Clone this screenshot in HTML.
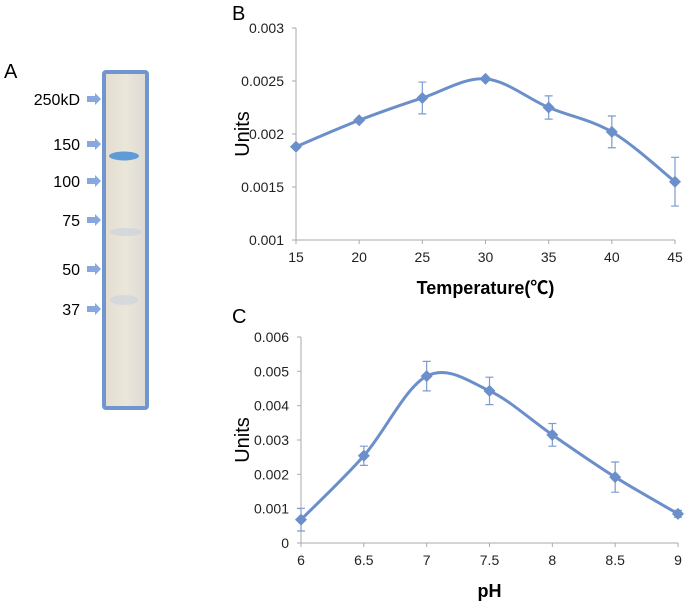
<!DOCTYPE html>
<html><head><meta charset="utf-8"><style>
body{margin:0;background:#fff;}
svg text{font-family:"Liberation Sans","Noto Sans CJK JP",sans-serif;}
</style></head><body>
<svg width="685" height="606" viewBox="0 0 685 606">
<defs><linearGradient id="gel" x1="0" x2="1"><stop offset="0" stop-color="#e2ddd0"/><stop offset="0.5" stop-color="#ebe6da"/><stop offset="1" stop-color="#dcdad4"/></linearGradient></defs>
<g>
<text x="4" y="78" font-size="20">A</text>
<rect x="104" y="72" width="43" height="336" fill="url(#gel)" stroke="#7195cd" stroke-width="4" rx="2"/>
<ellipse cx="124" cy="156" rx="15" ry="4.5" fill="#5f9bd6"/>
<ellipse cx="126" cy="232" rx="16" ry="4" fill="#c4d0dc" opacity="0.6"/>
<ellipse cx="124" cy="300" rx="14" ry="5" fill="#c8d2dc" opacity="0.6"/>
<g id="markers"></g>
</g>
<g id="chartB"></g>
<g id="chartC"></g>
</svg>
<script>
const markerLabels=["250kD","150","100","75","50","37"];
const markerY=[99,144,181,220,269,309];
const tempCats=[15,20,25,30,35,40,45];
const tempVals=[0.00188,0.00213,0.00234,0.00252,0.00225,0.00202,0.00155];
const tempErr=[0,0,0.00015,0,0.00011,0.00015,0.00023];
const tempYTicks=[0.001,0.0015,0.002,0.0025,0.003];
const phCats=[6,6.5,7,7.5,8,8.5,9];
const phVals=[0.00068,0.00254,0.00486,0.00443,0.00315,0.00192,0.00085];
const phErr=[0.00033,0.00028,0.00043,0.0004,0.00033,0.00044,0.0001];
const phYTicks=[0,0.001,0.002,0.003,0.004,0.005,0.006];
const NS="http://www.w3.org/2000/svg";
function mk(p,t,a){const e=document.createElementNS(NS,t);for(const k in a)e.setAttribute(k,a[k]);p.appendChild(e);return e;}
const mg=document.getElementById('markers');
markerLabels.forEach((l,i)=>{
 const t=mk(mg,'text',{x:80,y:markerY[i]+6,'font-size':16,'text-anchor':'end'});t.textContent=l;
 
 
 const y=markerY[i];
 const a=mk(mg,'path',{d:`M87 ${y-3}H95V${y-6}L101 ${y}L95 ${y+6}V${y+3}H87Z`,fill:'#86a8de'});
 
 
});
function chart(g,o){
 const sx=v=>o.x0+(v-o.cats[0])/(o.cats[o.cats.length-1]-o.cats[0])*(o.x1-o.x0);
 const yt=o.yt,sy=v=>o.y1-(v-yt[0])/(yt[yt.length-1]-yt[0])*(o.y1-o.y0);
 const lab=mk(g,'text',{x:o.lx,y:o.ly,'font-size':20});lab.textContent=o.letter;
 
 
 const ax=mk(g,'path',{d:`M${o.x0} ${o.y0}V${o.y1}H${o.x1}`,stroke:'#aaa',fill:'none','stroke-width':1});
 
 
 yt.forEach(v=>{mk(g,'line',{x1:o.x0-4,x2:o.x0,y1:sy(v),y2:sy(v),stroke:'#aaa'});
  const t=mk(g,'text',{x:o.x0-12,y:sy(v)+5,'font-size':14,'text-anchor':'end',fill:'#222'});t.textContent=String(v);
  
  });
 o.cats.forEach(v=>{mk(g,'line',{x1:sx(v),x2:sx(v),y1:o.y1,y2:o.y1+4,stroke:'#aaa'});
  const t=mk(g,'text',{x:sx(v),y:o.y1+22,'font-size':14,'text-anchor':'middle',fill:'#222'});t.textContent=String(v);
  
  });
 const yl=mk(g,'text',{transform:`translate(${o.yx},${(o.y0+o.y1)/2}) rotate(-90)`,'font-size':20,'text-anchor':'middle'});yl.textContent='Units';
 
 
 const xl=mk(g,'text',{x:(o.x0+o.x1)/2,y:o.xty,'font-size':18,'font-weight':'bold','text-anchor':'middle'});xl.textContent=o.xt;
 
 
 const P=o.cats.map((c,i)=>[sx(c),sy(o.vals[i])]);
 let d=`M${P[0][0]} ${P[0][1]}`;
 for(let i=0;i<P.length-1;i++){const p0=P[Math.max(0,i-1)],p1=P[i],p2=P[i+1],p3=P[Math.min(P.length-1,i+2)];
  d+=`C${p1[0]+(p2[0]-p0[0])/6} ${p1[1]+(p2[1]-p0[1])/6} ${p2[0]-(p3[0]-p1[0])/6} ${p2[1]-(p3[1]-p1[1])/6} ${p2[0]} ${p2[1]}`;}
 const ln=mk(g,'path',{d,stroke:'#6b8fca',fill:'none','stroke-width':3});
 
 
 o.cats.forEach((c,i)=>{const x=sx(c),y=sy(o.vals[i]),e=o.err[i];
  if(e>0){const a=sy(o.vals[i]+e),b=sy(o.vals[i]-e);
   const eb=mk(g,'path',{d:`M${x} ${a}V${b}M${x-4} ${a}H${x+4}M${x-4} ${b}H${x+4}`,stroke:'#7c9bd0',fill:'none','stroke-width':1.2});
   
   }
  const m=mk(g,'path',{d:`M${x} ${y-6}L${x+6} ${y}L${x} ${y+6}L${x-6} ${y}Z`,fill:'#6b8fca'});
  
  });
}
chart(document.getElementById('chartB'),{cats:tempCats,vals:tempVals,err:tempErr,yt:tempYTicks,x0:296,x1:675,y0:28,y1:240,letter:'B',lx:232,ly:20,yx:249,xt:'Temperature(℃)',xty:294});
chart(document.getElementById('chartC'),{cats:phCats,vals:phVals,err:phErr,yt:phYTicks,x0:301,x1:678,y0:337,y1:543,letter:'C',lx:232,ly:323,yx:249,xt:'pH',xty:597});
</script>
</body></html>
